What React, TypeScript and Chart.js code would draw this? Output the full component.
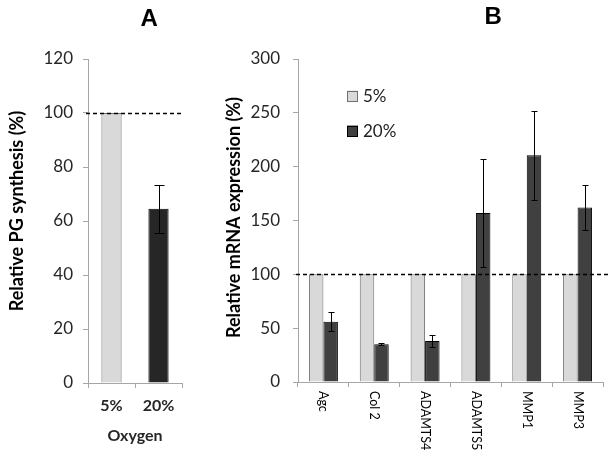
import React, { useEffect, useRef } from 'react';
import { Chart, registerables } from 'chart.js';

Chart.register(...registerables);

// ---- Data ----
const oxygenLabels = ['5%', '20%'];
const pgSynthesis = [100, 64.5];
const pgSynthesisErr = [0, 9];

const geneLabels = ['Agc', 'Col 2', 'ADAMTS4', 'ADAMTS5', 'MMP1', 'MMP3'];
const seriesNames = ['5%', '20%'];
const mrna5 = [100, 100, 100, 100, 100, 100];
const mrna20 = [56, 35, 38, 157, 210.5, 162];
const mrna20Err = [9, 1, 5.5, 50, 41, 21];

const referenceLevel = 100;
const pgTicks = { min: 0, max: 120, step: 20 };
const mrnaTicks = { min: 0, max: 300, step: 50 };

const FONT = 'Lato, "Open Sans", sans-serif';
const AXIS_COLOR = '#a6a6a6';
const TEXT_COLOR = '#262626';

const errorBarPlugin = {
  id: 'errorBars',
  afterDatasetsDraw(chart: any, _args: any, opts: any) {
    const ctx = chart.ctx;
    const y = chart.scales.y;
    const cap = opts.cap ?? 6;
    chart.data.datasets.forEach((ds: any, di: number) => {
      const errs = ds.errors;
      if (!errs) return;
      const meta = chart.getDatasetMeta(di);
      meta.data.forEach((bar: any, i: number) => {
        const e = errs[i];
        if (!e) return;
        const v = ds.data[i];
        const x = Math.round(bar.x) + 0.5;
        const top = Math.round(y.getPixelForValue(v + e)) + 0.5;
        const bot = Math.round(y.getPixelForValue(v - e)) + 0.5;
        ctx.save();
        ctx.strokeStyle = '#000';
        ctx.lineWidth = 1;
        ctx.beginPath();
        ctx.moveTo(x, top);
        ctx.lineTo(x, bot);
        ctx.moveTo(x - cap / 2, top);
        ctx.lineTo(x + cap / 2, top);
        ctx.moveTo(x - cap / 2, bot);
        ctx.lineTo(x + cap / 2, bot);
        ctx.stroke();
        ctx.restore();
      });
    });
  },
};

const refLinePlugin = {
  id: 'refLine',
  afterDatasetsDraw(chart: any, _args: any, opts: any) {
    const ctx = chart.ctx;
    const y = Math.round(chart.scales.y.getPixelForValue(opts.value)) + 0.5;
    const a = chart.chartArea;
    ctx.save();
    ctx.strokeStyle = '#000';
    ctx.lineWidth = 1.5;
    ctx.setLineDash([4, 3]);
    ctx.beginPath();
    ctx.moveTo(a.left - (opts.extendLeft ?? 0), y);
    ctx.lineTo(a.right + (opts.extendRight ?? 0), y);
    ctx.stroke();
    ctx.restore();
  },
};

const textPlugin = {
  id: 'panelText',
  afterDraw(chart: any, _args: any, opts: any) {
    const ctx = chart.ctx;
    const a = chart.chartArea;
    ctx.save();
    ctx.fillStyle = '#000';
    ctx.font = 'bold 24px "Liberation Sans", Arial, sans-serif';
    ctx.textAlign = 'center';
    ctx.textBaseline = 'middle';
    ctx.fillText(opts.letter, a.left + opts.letterX * (a.right - a.left), opts.letterY);
    ctx.font = `bold ${opts.titleSize}px ${FONT}`;
    ctx.fillStyle = '#000';
    ctx.translate(opts.titleX, (a.top + a.bottom) / 2 + opts.titleDy);
    ctx.rotate(-Math.PI / 2);
    ctx.fillText(opts.title, 0, 0);
    ctx.restore();
  },
};

const rotatedLabelsPlugin = {
  id: 'rotLabels',
  afterDraw(chart: any, _args: any, opts: any) {
    if (!opts.enabled) return;
    const ctx = chart.ctx;
    const xs = chart.scales.x;
    const a = chart.chartArea;
    ctx.save();
    ctx.font = `${opts.size}px ${FONT}`;
    ctx.fillStyle = '#000';
    ctx.textAlign = 'left';
    ctx.textBaseline = 'middle';
    chart.data.labels.forEach((lab: string, i: number) => {
      const x = xs.getPixelForValue(i);
      ctx.save();
      ctx.translate(x, a.bottom + opts.offset);
      ctx.rotate(Math.PI / 2);
      ctx.fillText(lab, 0, 0);
      ctx.restore();
    });
    ctx.restore();
  },
};

const boxLegendPlugin = {
  id: 'boxLegend',
  afterDraw(chart: any, _args: any, opts: any) {
    if (!opts.enabled) return;
    const ctx = chart.ctx;
    ctx.save();
    ctx.font = `${opts.size}px ${FONT}`;
    ctx.textAlign = 'left';
    ctx.textBaseline = 'middle';
    chart.data.datasets.forEach((ds: any, i: number) => {
      const cy = opts.y + i * opts.gap;
      const s = opts.box;
      ctx.fillStyle = ds.backgroundColor;
      ctx.fillRect(opts.x, cy - s / 2, s, s);
      ctx.strokeStyle = ds.borderColor;
      ctx.lineWidth = 1;
      ctx.strokeRect(opts.x + 0.5, Math.round(cy - s / 2) + 0.5, s - 1, s - 1);
      ctx.fillStyle = '#222';
      ctx.fillText(ds.label, opts.x + s + 5, cy + 1);
    });
    ctx.restore();
  },
};

function yScale(t: any, width: number, pad: number) {
  return {
    min: t.min,
    max: t.max,
    afterFit: (s: any) => {
      s.width = width;
    },
    ticks: {
      stepSize: t.step,
      padding: pad,
      color: TEXT_COLOR,
      font: { family: FONT, size: 17 },
    },
    grid: { drawOnChartArea: false, drawTicks: true, tickLength: 5, color: AXIS_COLOR },
    border: { display: true, color: AXIS_COLOR, width: 1 },
  };
}

export default function App() {
  const refA = useRef<HTMLCanvasElement>(null);
  const refB = useRef<HTMLCanvasElement>(null);

  useEffect(() => {
    const chartA = new Chart(refA.current!, {
      type: 'bar',
      data: {
        labels: oxygenLabels,
        datasets: [
          {
            label: 'PG synthesis',
            data: pgSynthesis,
            errors: pgSynthesisErr,
            backgroundColor: ['#d9d9d9', '#262626'],
            borderColor: ['#707070', '#000000'],
            borderWidth: 1,
            barPercentage: 0.43,
            categoryPercentage: 1,
          } as any,
        ],
      },
      options: {
        animation: false,
        responsive: false,
        devicePixelRatio: 1,
        layout: { padding: { top: 59, right: 18, left: 0, bottom: 0 } },
        plugins: {
          legend: { display: false },
          tooltip: { enabled: false },
          errorBars: { cap: 10 },
          refLine: { value: referenceLevel, extendLeft: 2, extendRight: 1 },
          panelText: { letter: 'A', letterX: 0.65, letterY: 19, title: 'Relative PG synthesis (%)', titleSize: 18, titleX: 17, titleDy: -10 },
          rotLabels: { enabled: false },
          boxLegend: { enabled: false },
        } as any,
        scales: {
          x: {
            afterFit: (s: any) => {
              s.height = 70;
            },
            ticks: { padding: 8, color: TEXT_COLOR, font: { family: FONT, size: 16, weight: 'bold' } },
            grid: { offset: true, drawOnChartArea: false, drawTicks: true, tickLength: 5, color: AXIS_COLOR },
            border: { display: true, color: AXIS_COLOR, width: 1 },
            title: {
              display: true,
              text: 'Oxygen',
              color: TEXT_COLOR,
              font: { family: FONT, size: 16, weight: 'bold' },
              padding: { top: 0, bottom: 8 },
            },
          },
          y: yScale(pgTicks, 88, 10) as any,
        },
      },
      plugins: [errorBarPlugin, refLinePlugin, textPlugin, rotatedLabelsPlugin, boxLegendPlugin],
    });

    const chartB = new Chart(refB.current!, {
      type: 'bar',
      data: {
        labels: geneLabels,
        datasets: [
          {
            label: seriesNames[0],
            data: mrna5,
            backgroundColor: '#d9d9d9',
            borderColor: '#707070',
            borderWidth: 1,
            barPercentage: 1,
            categoryPercentage: 0.57,
          },
          {
            label: seriesNames[1],
            data: mrna20,
            errors: mrna20Err,
            backgroundColor: '#404040',
            borderColor: '#000000',
            borderWidth: 1,
            barPercentage: 1,
            categoryPercentage: 0.57,
          } as any,
        ],
      },
      options: {
        animation: false,
        responsive: false,
        devicePixelRatio: 1,
        layout: { padding: { top: 59, right: 10, left: 0, bottom: 0 } },
        plugins: {
          legend: { display: false },
          tooltip: { enabled: false },
          errorBars: { cap: 6 },
          refLine: { value: referenceLevel, extendLeft: 2, extendRight: 6 },
          panelText: { letter: 'B', letterX: 0.64, letterY: 17, title: 'Relative mRNA expression (%)', titleSize: 18, titleX: 34, titleDy: -3 },
          rotLabels: { enabled: true, size: 12.5, offset: 9 },
          boxLegend: { enabled: true, x: 147, y: 96, gap: 35, box: 11, size: 17 },
        } as any,
        scales: {
          x: {
            afterFit: (s: any) => {
              s.height = 71;
            },
            ticks: { display: false },
            grid: { offset: true, drawOnChartArea: false, drawTicks: true, tickLength: 5, color: AXIS_COLOR },
            border: { display: true, color: AXIS_COLOR, width: 1 },
          },
          y: yScale(mrnaTicks, 98, 13) as any,
        },
      },
      plugins: [errorBarPlugin, refLinePlugin, textPlugin, rotatedLabelsPlugin, boxLegendPlugin],
    });

    return () => {
      chartA.destroy();
      chartB.destroy();
    };
  }, []);

  return (
    <div style={{ position: 'absolute', left: 0, top: 0, width: 613, height: 453, background: '#fff' }}>
      <canvas ref={refA} width={200} height={453} style={{ position: 'absolute', left: 0, top: 0, width: 200, height: 453 }} />
      <canvas ref={refB} width={413} height={453} style={{ position: 'absolute', left: 200, top: 0, width: 413, height: 453 }} />
    </div>
  );
}
